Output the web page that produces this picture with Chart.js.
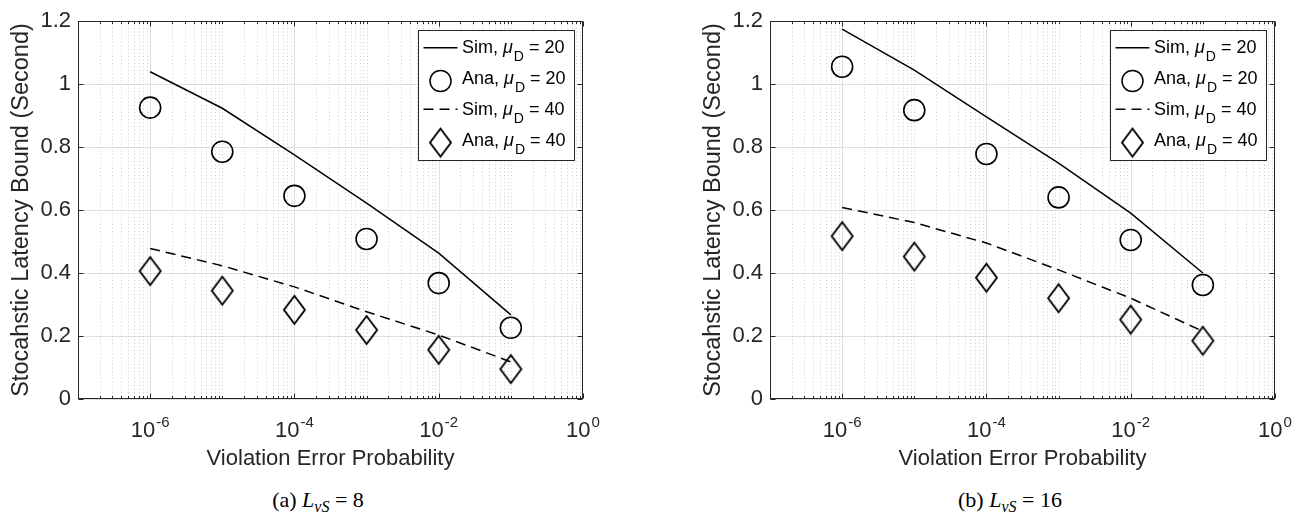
<!DOCTYPE html>
<html>
<head>
<meta charset="utf-8">
<script src="https://cdn.jsdelivr.net/npm/chart.js@4.4.1/dist/chart.umd.min.js"></script>
<style>
  html, body { margin: 0; padding: 0; background: #fff; overflow: hidden; }
  #page { position: relative; width: 1299px; height: 514px; }
  .panel { position: absolute; top: 0; width: 607px; height: 480px; }
  .caption {
    position: absolute;
    top: 489px;
    line-height: 22px;
    font-family: "Liberation Serif", "Times New Roman", serif;
    font-size: 22px;
    color: #000;
    white-space: nowrap;
    transform: translateX(-50%);
  }
  .caption .sub { position: relative; top: 5px; font-size: 16px; font-style: italic; }
</style>
</head>
<body>
<div id="page">
  <div class="panel" style="left:0"><canvas id="chartA" width="607" height="480"></canvas></div>
  <div class="panel" style="left:692px"><canvas id="chartB" width="607" height="480"></canvas></div>
  <div class="caption" style="left:318px">(a) <i>L</i><span class="sub">vS</span> = 8</div>
  <div class="caption" style="left:1010px">(b) <i>L</i><span class="sub">vS</span> = 16</div>
</div>

<script>
// x values (violation error probability) and tick labels
const probabilities = [1e-6, 1e-5, 1e-4, 1e-3, 1e-2, 1e-1];
const xTickExponents = [-6, -4, -2, 0];
const legendNames = ["Sim", "Ana", "Sim", "Ana"];
const legendMu = [20, 20, 40, 40];

// (a) L_vS = 8
const simMu20A = [1.039, 0.923, 0.775, 0.622, 0.463, 0.267];
const anaMu20A = [0.925, 0.785, 0.645, 0.508, 0.368, 0.226];
const simMu40A = [0.478, 0.423, 0.356, 0.277, 0.203, 0.118];
const anaMu40A = [0.406, 0.344, 0.283, 0.219, 0.156, 0.095];

// (b) L_vS = 16
const simMu20B = [1.174, 1.044, 0.896, 0.749, 0.59, 0.4];
const anaMu20B = [1.055, 0.917, 0.778, 0.64, 0.505, 0.362];
const simMu40B = [0.608, 0.56, 0.495, 0.41, 0.32, 0.215];
const anaMu40B = [0.517, 0.452, 0.385, 0.32, 0.252, 0.185];

const AXIS_COLOR = "#262626";
const FONT = "'Liberation Sans', Arial, Helvetica, sans-serif";

// taller-than-wide diamond marker like MATLAB's 'd'
function makeDiamond() {
  const c = document.createElement("canvas");
  c.width = 25;
  c.height = 32;
  const g = c.getContext("2d");
  g.strokeStyle = "#000";
  g.lineWidth = 1.9;
  g.beginPath();
  g.moveTo(12.5, 2);
  g.lineTo(23, 16);
  g.lineTo(12.5, 30);
  g.lineTo(2, 16);
  g.closePath();
  g.stroke();
  return c;
}
const diamond = makeDiamond();

function toPoints(values) {
  return values.map((v, i) => ({ x: probabilities[i], y: v }));
}

function makeDatasets(sim20, ana20, sim40, ana40) {
  return [
    {
      data: toPoints(sim20),
      borderColor: "#000",
      borderWidth: 1.5,
      pointRadius: 0,
      showLine: true,
    },
    {
      data: toPoints(ana20),
      showLine: false,
      pointStyle: "circle",
      pointRadius: 10.5,
      pointBorderWidth: 1.6,
      pointBorderColor: "#000",
      pointBackgroundColor: "rgba(0,0,0,0)",
    },
    {
      data: toPoints(sim40),
      borderColor: "#000",
      borderWidth: 1.5,
      borderDash: [10, 6],
      pointRadius: 0,
      showLine: true,
    },
    {
      data: toPoints(ana40),
      showLine: false,
      pointStyle: diamond,
      pointRadius: 12,
    },
  ];
}

// grid, box, inward ticks, superscript tick labels and legend
const matlabAxes = {
  id: "matlabAxes",
  beforeDatasetsDraw(chart) {
    const { ctx, chartArea: a } = chart;
    const x = chart.scales.x;
    ctx.save();
    ctx.lineWidth = 1;
    for (let e = -7; e < 0; e++) {
      for (let m = 1; m <= 9; m++) {
        const px = Math.round(x.getPixelForValue(m * Math.pow(10, e))) + 0.5;
        if (px <= a.left + 1 || px >= a.right - 1) continue;
        const major = m === 1 && e % 2 === 0;
        ctx.beginPath();
        if (major) {
          ctx.strokeStyle = "#dfdfdf";
          ctx.setLineDash([]);
        } else {
          ctx.strokeStyle = "#cdcdcd";
          ctx.setLineDash([1, 2.5]);
        }
        ctx.moveTo(px, a.top);
        ctx.lineTo(px, a.bottom);
        ctx.stroke();
      }
    }
    ctx.restore();
  },
  afterDatasetsDraw(chart) {
    const { ctx, chartArea: a } = chart;
    const x = chart.scales.x;
    const y = chart.scales.y;
    const L = a.left + 0.5, R = a.right - 0.5, T = a.top + 0.5, B = a.bottom - 0.5;
    ctx.save();
    ctx.strokeStyle = AXIS_COLOR;
    ctx.lineWidth = 1;
    ctx.setLineDash([]);
    ctx.strokeRect(L, T, R - L, B - T);
    ctx.beginPath();
    // x ticks, bottom and top, pointing inward
    for (let e = -7; e <= 0; e++) {
      for (let m = 1; m <= 9; m++) {
        if (e === 0 && m > 1) break;
        const px = Math.round(x.getPixelForValue(m * Math.pow(10, e))) + 0.5;
        const len = m === 1 && e % 2 === 0 ? 5 : 2.5;
        ctx.moveTo(px, B);
        ctx.lineTo(px, B - len);
        ctx.moveTo(px, T);
        ctx.lineTo(px, T + len);
      }
    }
    // y ticks, left and right
    y.ticks.forEach((t) => {
      const py = Math.round(y.getPixelForValue(t.value)) + 0.5;
      ctx.moveTo(L, py);
      ctx.lineTo(L + 5, py);
      ctx.moveTo(R, py);
      ctx.lineTo(R - 5, py);
    });
    ctx.stroke();
    ctx.restore();
  },
  afterDraw(chart) {
    const { ctx, chartArea: a } = chart;
    const x = chart.scales.x;
    ctx.save();
    ctx.fillStyle = AXIS_COLOR;
    ctx.textBaseline = "alphabetic";
    ctx.textAlign = "left";

    // x tick labels 10^k
    xTickExponents.forEach((k) => {
      const px = x.getPixelForValue(Math.pow(10, k));
      ctx.font = "22px " + FONT;
      const baseW = ctx.measureText("10").width;
      ctx.font = "15px " + FONT;
      const expText = String(k);
      const expW = ctx.measureText(expText).width;
      const start = px - (baseW + 1 + expW) / 2;
      ctx.font = "22px " + FONT;
      ctx.fillText("10", start, a.bottom + 38);
      ctx.font = "15px " + FONT;
      ctx.fillText(expText, start + baseW + 1, a.bottom + 28);
    });

    // legend
    const bw = 156, bh = 130;
    const bx = Math.round(a.right - 9 - bw) + 0.5;
    const by = Math.round(a.top + 9) + 0.5;
    ctx.fillStyle = "#fff";
    ctx.fillRect(bx, by, bw, bh);
    ctx.strokeStyle = AXIS_COLOR;
    ctx.lineWidth = 1;
    ctx.strokeRect(bx, by, bw, bh);

    chart.data.datasets.forEach((ds, i) => {
      const base = by + 22.7 + 30.8 * i;
      ctx.save();
      ctx.strokeStyle = "#000";
      ctx.lineWidth = 1.5;
      if (ds.showLine) {
        ctx.setLineDash(ds.borderDash || []);
        ctx.beginPath();
        ctx.moveTo(bx + 5, base - 5.5);
        ctx.lineTo(bx + 39, base - 5.5);
        ctx.stroke();
      } else {
        ctx.fillStyle = "rgba(0,0,0,0)";
        Chart.helpers.drawPoint(
          ctx,
          { pointStyle: ds.pointStyle, radius: ds.pointRadius, borderWidth: 1.6, rotation: 0 },
          bx + 22,
          base - 3
        );
      }
      ctx.restore();

      // label: "Sim, μ_D = 20"
      let tx = bx + 43.5;
      ctx.fillStyle = "#000";
      ctx.font = "18px " + FONT;
      const head = legendNames[i] + ", ";
      ctx.fillText(head, tx, base);
      tx += ctx.measureText(head).width;
      ctx.font = "italic 18px " + FONT;
      ctx.fillText("\u03bc", tx, base);
      tx += ctx.measureText("\u03bc").width + 1;
      ctx.font = "14px " + FONT;
      ctx.fillText("D", tx, base + 8);
      tx += ctx.measureText("D").width;
      ctx.font = "18px " + FONT;
      ctx.fillText(" = " + legendMu[i], tx, base);
    });
    ctx.restore();
  },
};

function makeOptions() {
  return {
    responsive: false,
    devicePixelRatio: 1,
    animation: false,
    events: [],
    layout: {
      padding: { top: 21, left: 0, right: 24, bottom: 0 },
    },
    plugins: {
      legend: { display: false },
      tooltip: { enabled: false },
    },
    scales: {
      x: {
        type: "logarithmic",
        min: 1e-7,
        max: 1,
        grid: { display: false },
        border: { display: false },
        ticks: { display: false },
        title: {
          display: true,
          text: "Violation Error Probability",
          color: AXIS_COLOR,
          font: { family: FONT, size: 22, lineHeight: 1 },
          padding: { top: 0, bottom: 10 },
        },
        afterFit: (scale) => {
          scale.height = 81;
        },
      },
      y: {
        min: 0,
        max: 1.2,
        grid: {
          color: "#dfdfdf",
          lineWidth: 1,
          drawTicks: false,
        },
        border: { display: false },
        ticks: {
          stepSize: 0.2,
          padding: 7,
          color: AXIS_COLOR,
          font: { family: FONT, size: 22 },
          callback: (v) => String(Math.round(v * 10) / 10),
        },
        title: {
          display: true,
          text: "Stocahstic Latency Bound (Second)",
          color: AXIS_COLOR,
          font: { family: FONT, size: 23.5, lineHeight: 1 },
          padding: { top: 10, bottom: 0 },
        },
        afterFit: (scale) => {
          scale.width = 78;
        },
      },
    },
  };
}

new Chart(document.getElementById("chartA"), {
  type: "line",
  data: { datasets: makeDatasets(simMu20A, anaMu20A, simMu40A, anaMu40A) },
  options: makeOptions(),
  plugins: [matlabAxes],
});

new Chart(document.getElementById("chartB"), {
  type: "line",
  data: { datasets: makeDatasets(simMu20B, anaMu20B, simMu40B, anaMu40B) },
  options: makeOptions(),
  plugins: [matlabAxes],
});
</script>
</body>
</html>
